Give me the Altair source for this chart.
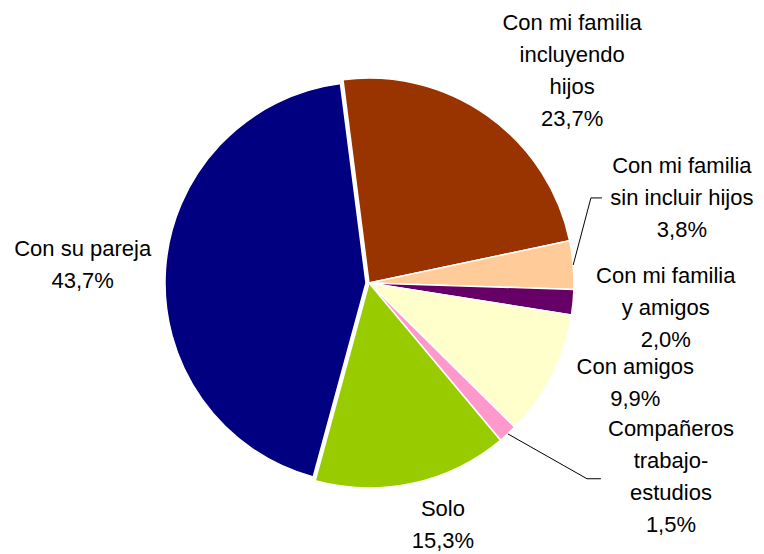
import math
import altair as alt
import pandas as pd

# ---- data ----
categories = [
    "Con mi familia incluyendo hijos",
    "Con mi familia sin incluir hijos",
    "Con mi familia y amigos",
    "Con amigos",
    "Compañeros trabajo-estudios",
    "Solo",
    "Con su pareja",
]
label_text = [
    "Con mi familia\nincluyendo\nhijos",
    "Con mi familia\nsin incluir hijos",
    "Con mi familia\ny amigos",
    "Con amigos",
    "Compañeros\ntrabajo-\nestudios",
    "Solo",
    "Con su pareja",
]
values = [23.7, 3.8, 2.0, 9.9, 1.5, 15.3, 43.7]
colors = ["#993300", "#FFCC99", "#660066", "#FFFFCC", "#FF99CC", "#99CC00", "#000080"]

pct_text = [f"{v:.1f}".replace(".", ",") + "%" for v in values]
df = pd.DataFrame({
    "idx": list(range(len(values))),
    "category": categories,
    "value": values,
    "label": [l + "\n" + p for l, p in zip(label_text, pct_text)],
})

# ---- layout / style ----
W, H = 748, 546
CX, CY = 361, 275          # pie centre inside the chart
R = 205                    # pie radius
R_EXPL = 201               # radius of the pulled-out slice
LABEL_R = 285              # base label radius
LH = 32                    # label line height
START = math.radians(-7.3) # angle of first slice
EXPLODE = 3                # "Con su pareja" is slightly pulled out
TOTAL = sum(values)

label_style = {
    categories[0]: dict(dx=38, dy=20),
    categories[1]: dict(dx=29, dy=-60),
    categories[2]: dict(dx=13, dy=-2),
    categories[3]: dict(dx=12, dy=-29),
    categories[4]: dict(dx=109, dy=-16),
    categories[5]: dict(dx=13, dy=-36),
    categories[6]: dict(dx=-2, dy=2),
}
leader_style = {
    categories[1]: dict(ex=-91, ey=0, length=11),
    categories[4]: dict(ex=-84, ey=2, length=14),
}

theta_scale = alt.Scale(domain=[0, TOTAL], range=[START, START + 2 * math.pi])
color_scale = alt.Scale(domain=categories, range=colors)

base = (
    alt.Chart(df)
    .transform_window(cum="sum(value)", sort=[alt.SortField("idx")], frame=[None, 0])
    .transform_calculate(t0="datum.cum - datum.value", tmid="datum.cum - datum.value / 2")
)


def arc_layer(chart, x, r):
    return chart.mark_arc(outerRadius=r, stroke="white", strokeWidth=1.5).encode(
        theta=alt.Theta("t0:Q", scale=theta_scale, stack=None),
        theta2="cum:Q",
        color=alt.Color("category:N", scale=color_scale, legend=None),
        x=alt.value(x),
        y=alt.value(CY),
    )


layers = [
    arc_layer(base.transform_filter(alt.datum.category != categories[-1]), CX, R),
    arc_layer(base.transform_filter(alt.datum.category == categories[-1]), CX - EXPLODE, R_EXPL),
]

ang = f"({START} + datum.tmid / {TOTAL} * 2 * PI)"

for cat, ls in leader_style.items():
    s = label_style[cat]
    lead = base.transform_filter(alt.datum.category == cat).transform_calculate(
        xs=f"{CX} + {R} * sin({ang})",
        ys=f"{CY} - {R} * cos({ang})",
        xe=f"{CX} + {LABEL_R} * sin({ang}) + {s['dx'] + ls['ex']}",
        ye=f"{CY} - {LABEL_R} * cos({ang}) + {s['dy'] + ls['ey']}",
    ).transform_calculate(xf=f"datum.xe + {ls['length']}")
    layers.append(
        lead.mark_rule(color="black", strokeWidth=1).encode(
            x=alt.X("xs:Q", scale=None, axis=None),
            y=alt.Y("ys:Q", scale=None, axis=None),
            x2="xe:Q",
            y2="ye:Q",
        )
    )
    layers.append(
        lead.mark_rule(color="black", strokeWidth=1).encode(
            x=alt.X("xe:Q", scale=None, axis=None),
            y=alt.Y("ye:Q", scale=None, axis=None),
            x2="xf:Q",
        )
    )

for cat, lab in zip(categories, df["label"]):
    s = label_style[cat]
    n_lines = lab.count("\n") + 1
    layers.append(
        base.transform_filter(alt.datum.category == cat)
        .mark_text(
            radius=LABEL_R,
            dx=s["dx"],
            dy=s["dy"] - (n_lines - 1) * LH / 2,
            align="center",
            baseline="middle",
            lineBreak="\n",
            lineHeight=LH,
            font="Liberation Sans",
            fontSize=22,
            color="black",
        )
        .encode(
            theta=alt.Theta("tmid:Q", scale=theta_scale, stack=None),
            text="label:N",
            x=alt.value(CX),
            y=alt.value(CY),
        )
    )

chart = (
    alt.layer(*layers)
    .properties(width=W, height=H, padding=0, background="white",
                autosize=alt.AutoSizeParams(type="none"))
    .configure_view(stroke=None, strokeWidth=0)
)

chart.save("out.html", embed_options={"renderer": "svg", "actions": False})
